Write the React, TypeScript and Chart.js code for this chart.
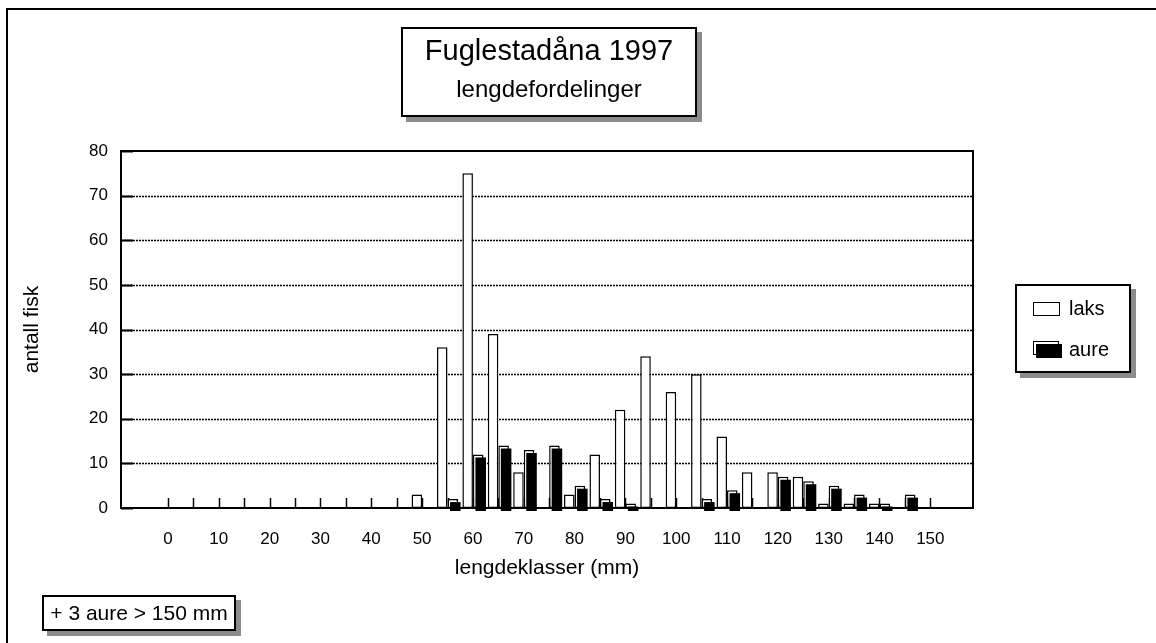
import React, { useEffect, useRef } from "react";
import { Chart, registerables } from "chart.js";

Chart.register(...registerables);

// ---- data ----
const categories = [0, 5, 10, 15, 20, 25, 30, 35, 40, 45, 50, 55, 60, 65, 70, 75, 80, 85, 90, 95, 100, 105, 110, 115, 120, 125, 130, 135, 140, 145, 150];
const laks = [0, 0, 0, 0, 0, 0, 0, 0, 0, 0, 3, 36, 75, 39, 8, 0, 3, 12, 22, 34, 26, 30, 16, 8, 8, 7, 1, 1, 1, 0, 0];
const aure = [0, 0, 0, 0, 0, 0, 0, 0, 0, 0, 0, 2, 12, 14, 13, 14, 5, 2, 1, 0, 0, 2, 4, 0, 7, 6, 5, 3, 1, 3, 0];
const seriesNames = ["laks", "aure"];
const xTickLabels = [0, 10, 20, 30, 40, 50, 60, 70, 80, 90, 100, 110, 120, 130, 140, 150];
const yTicks = [0, 10, 20, 30, 40, 50, 60, 70, 80];
const titleText = "Fuglestadåna 1997";
const subtitleText = "lengdefordelinger";
const xTitle = "lengdeklasser (mm)";
const yTitle = "antall fisk";
const noteText = "+ 3 aure > 150 mm";

const FONT = "'Liberation Sans', Arial, sans-serif";

const decorPlugin = {
  id: "decor",
  beforeDatasetsDraw(chart: any) {
    const { ctx, chartArea: a, scales } = chart;
    const x = scales.x;
    const y = scales.y;
    ctx.save();
    ctx.strokeStyle = "#000";
    ctx.lineWidth = 1.5;
    ctx.setLineDash([2, 1]);
    yTicks.forEach((v) => {
      if (v === yTicks[0] || v === yTicks[yTicks.length - 1]) return;
      const py = Math.round(y.getPixelForValue(v)) + 0.5;
      ctx.beginPath();
      ctx.moveTo(a.left, py);
      ctx.lineTo(a.right, py);
      ctx.stroke();
    });
    ctx.setLineDash([]);
    ctx.lineWidth = 2;
    yTicks.forEach((v) => {
      const py = Math.round(y.getPixelForValue(v)) + 0.5;
      ctx.beginPath();
      ctx.moveTo(a.left, py);
      ctx.lineTo(a.left + 12, py);
      ctx.stroke();
    });
    ctx.lineWidth = 1.5;
    categories.forEach((c) => {
      const px = Math.round(x.getPixelForValue(c)) + 0.5;
      ctx.beginPath();
      ctx.moveTo(px, a.bottom);
      ctx.lineTo(px, a.bottom - 10);
      ctx.stroke();
    });
    ctx.restore();
  },
  afterDatasetDraw(chart: any, args: any) {
    if (args.index !== 1) return;
    const ctx = chart.ctx;
    ctx.save();
    ctx.fillStyle = "#000";
    args.meta.data.forEach((el: any) => {
      const { x, y, base, width } = el.getProps(["x", "y", "base", "width"], true);
      const h = base - y;
      if (h <= 0.5) return;
      ctx.fillRect(x - width / 2 + 2.5, y + 3, width, h);
    });
    ctx.restore();
  },
  afterDraw(chart: any) {
    const { ctx, chartArea: a } = chart;
    ctx.save();
    ctx.strokeStyle = "#000";
    ctx.lineWidth = 2;
    ctx.strokeRect(a.left, a.top, a.right - a.left, a.bottom - a.top);
    ctx.restore();
  },
};

function ChartCanvas() {
  const ref = useRef<HTMLCanvasElement | null>(null);
  useEffect(() => {
    if (!ref.current) return;
    const chart = new Chart(ref.current, {
      type: "bar",
      data: {
        datasets: [
          {
            label: seriesNames[0],
            data: categories.map((c, i) => ({ x: c, y: laks[i] })),
            backgroundColor: "#ffffff",
            borderColor: "#000000",
            borderWidth: 1.5,
            borderSkipped: false,
            categoryPercentage: 0.83,
            barPercentage: 1,
          },
          {
            label: seriesNames[1],
            data: categories.map((c, i) => ({ x: c, y: aure[i] })),
            backgroundColor: "#ffffff",
            borderColor: "#000000",
            borderWidth: 1.5,
            borderSkipped: false,
            categoryPercentage: 0.83,
            barPercentage: 1,
          },
        ],
      },
      options: {
        animation: false,
        responsive: false,
        devicePixelRatio: 1,
        layout: { padding: { left: 10, top: 151, right: 183, bottom: 0 } },
        plugins: { legend: { display: false }, tooltip: { enabled: false } },
        scales: {
          x: {
            type: "linear",
            min: -9.25,
            max: 158.4,
            offset: false,
            grid: { display: false, drawTicks: false },
            border: { display: false },
            afterBuildTicks: (s: any) => {
              s.ticks = xTickLabels.map((v) => ({ value: v }));
            },
            afterFit: (s: any) => {
              s.height = 135;
            },
            ticks: {
              color: "#000",
              font: { family: FONT, size: 17 },
              padding: 21,
              maxRotation: 0,
              autoSkip: false,
              callback: (v: any) => String(v),
            },
            title: {
              display: true,
              text: xTitle,
              color: "#000",
              font: { family: FONT, size: 21 },
              padding: { top: 0, bottom: 62 },
            },
          },
          y: {
            min: 0,
            max: 80,
            grid: { display: false, drawTicks: false },
            border: { display: false },
            afterBuildTicks: (s: any) => {
              s.ticks = yTicks.map((v) => ({ value: v }));
            },
            afterFit: (s: any) => {
              s.width = 111;
            },
            ticks: {
              color: "#000",
              font: { family: FONT, size: 17 },
              padding: 13,
            },
            title: {
              display: true,
              text: yTitle,
              color: "#000",
              font: { family: FONT, size: 21 },
              padding: { top: 10, bottom: 0 },
            },
          },
        },
      } as any,
      plugins: [decorPlugin],
    });
    return () => chart.destroy();
  }, []);
  return <canvas ref={ref} width={1156} height={643} style={{ position: "absolute", left: 0, top: 0, width: 1156, height: 643 }} />;
}

export default function App() {
  const boxStyle: React.CSSProperties = {
    position: "absolute",
    background: "#fff",
    border: "2px solid #000",
    boxSizing: "border-box",
    boxShadow: "5px 5px 0 #8c8c8c",
  };
  return (
    <div style={{ position: "fixed", left: 0, top: 0, width: 1156, height: 643, background: "#fff", overflow: "hidden", fontFamily: FONT, color: "#000" }}>
      <div style={{ position: "absolute", left: 6, top: 8, width: 1200, height: 700, borderLeft: "2px solid #000", borderTop: "2px solid #000" }} />
      <ChartCanvas />
      <div style={{ ...boxStyle, left: 401, top: 27, width: 296, height: 90 }}>
        <div style={{ position: "absolute", left: 0, right: 0, top: 5, textAlign: "center", fontSize: 29, lineHeight: "33px", whiteSpace: "nowrap" }}>{titleText}</div>
        <div style={{ position: "absolute", left: 0, right: 0, top: 46, textAlign: "center", fontSize: 24, lineHeight: "27px", whiteSpace: "nowrap" }}>{subtitleText}</div>
      </div>
      <div style={{ ...boxStyle, left: 1015, top: 284, width: 116, height: 89 }}>
        <div style={{ position: "absolute", left: 16, top: 16, width: 27, height: 14, border: "1.5px solid #000", boxSizing: "border-box", background: "#fff" }} />
        <div style={{ position: "absolute", left: 52, top: 11, fontSize: 20, lineHeight: "23px" }}>{seriesNames[0]}</div>
        <div style={{ position: "absolute", left: 16, top: 55, width: 26, height: 14, border: "1.5px solid #000", boxSizing: "border-box", background: "#fff" }} />
        <div style={{ position: "absolute", left: 19, top: 58, width: 26, height: 14, background: "#000" }} />
        <div style={{ position: "absolute", left: 52, top: 52, fontSize: 20, lineHeight: "23px" }}>{seriesNames[1]}</div>
      </div>
      <div style={{ ...boxStyle, left: 42, top: 595, width: 194, height: 36 }}>
        <div style={{ position: "absolute", left: 0, right: 0, top: 4, textAlign: "center", fontSize: 21, lineHeight: "24px", whiteSpace: "nowrap" }}>{noteText}</div>
      </div>
    </div>
  );
}
